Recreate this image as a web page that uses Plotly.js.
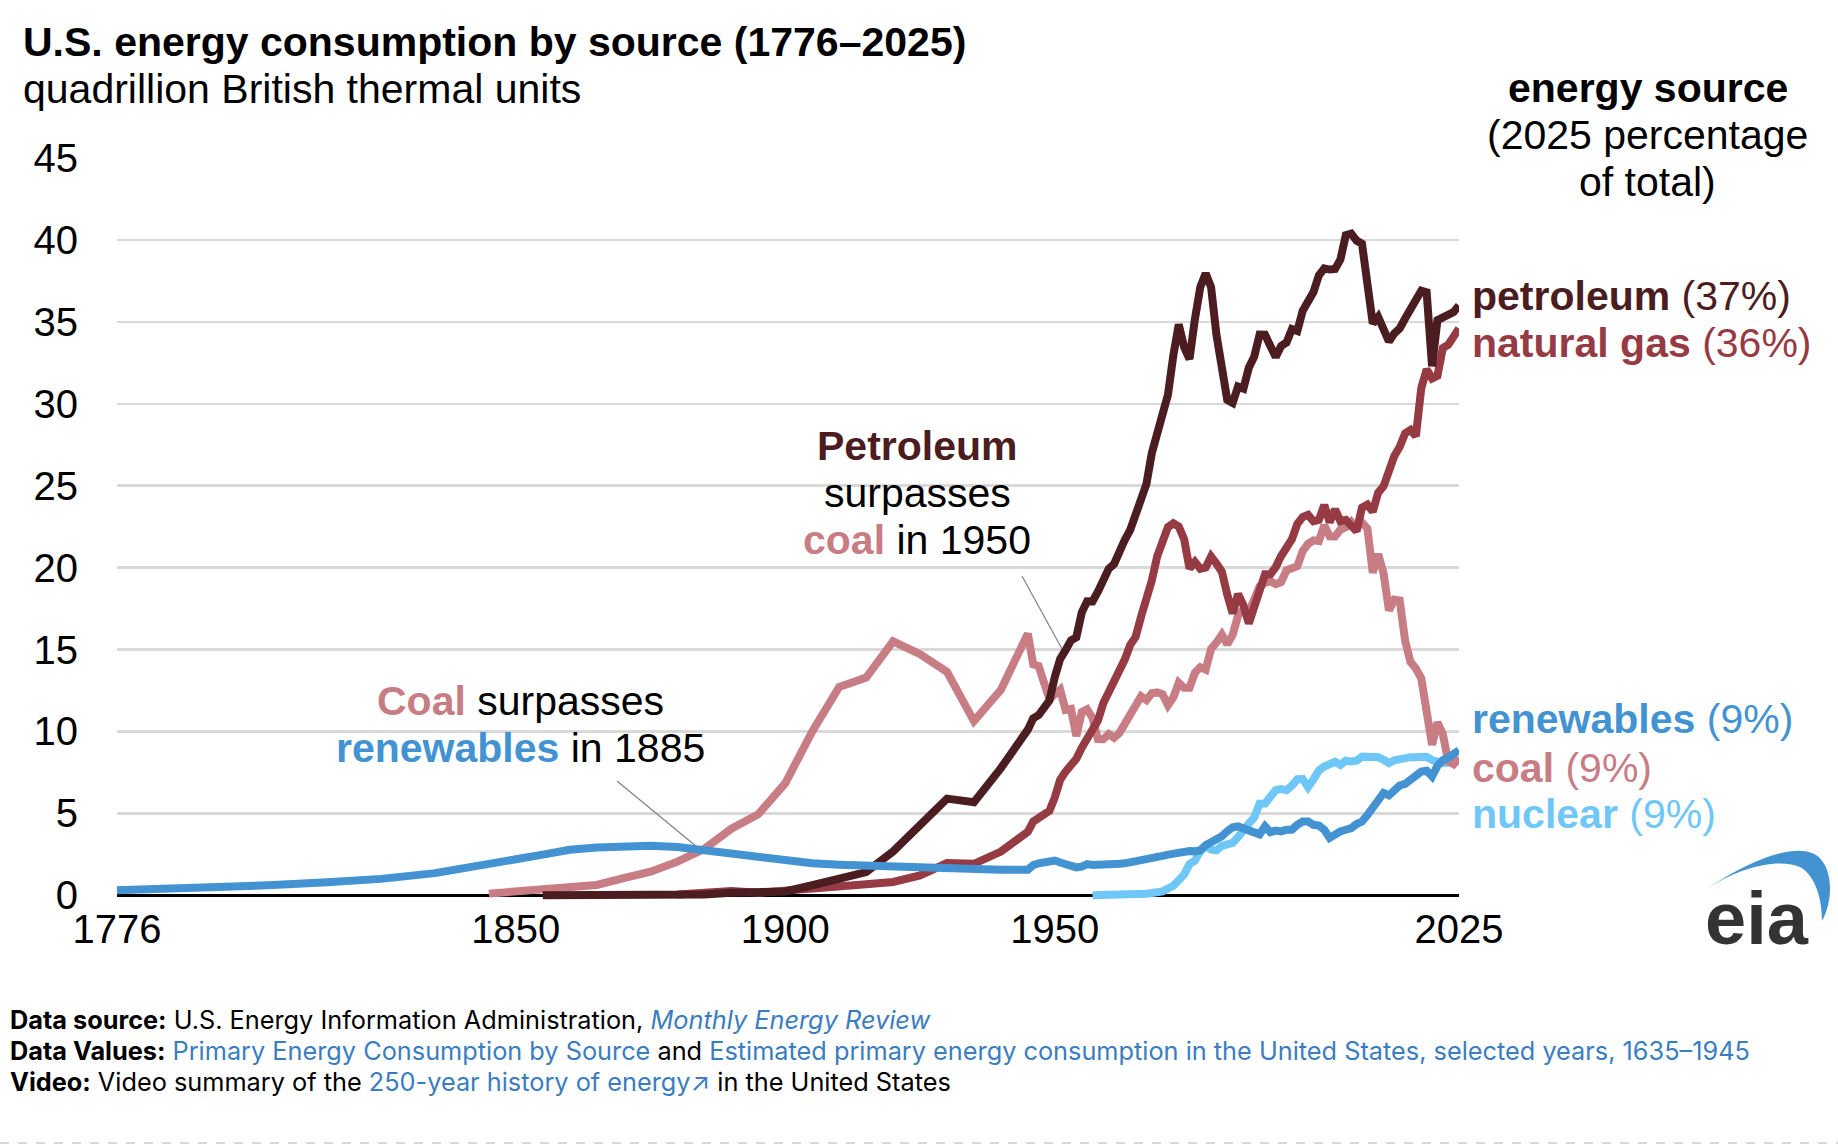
<!DOCTYPE html>
<html>
<head>
<meta charset="utf-8">
<script src="https://cdn.plot.ly/plotly-3.0.1.min.js"></script>
<style>html,body{margin:0;padding:0;background:#fff;}#chart{width:1838px;height:1146px;}</style>
</head>
<body>
<div id="chart"></div>
<script>
// ---------------- data (quadrillion Btu) ----------------
const renewYears = [1776,1785,1795,1805,1815,1825,1835,1845,1850,1855,1860,1865,1870,1875,1880,1885,1890,1895,1900,1905,1910,1915,1920,1925,1930,1935,1940,1945,1946,1947,
  1949,1950,1951,1952,1953,1954,1955,1956,1957,1958,1959,1960,1961,1962,1963,1964,1965,1966,1967,1968,1969,1970,1971,1972,1973,1974,1975,1976,1977,1978,1979,1980,1981,1982,1983,1984,1985,1986,1987,1988,1989,1990,1991,1992,1993,1994,1995,1996,1997,1998,1999,2000,2001,2002,2003,2004,2005,2006,2007,2008,2009,2010,2011,2012,2013,2014,2015,2016,2017,2018,2019,2020,2021,2022,2023,2024,2025];
const renewValues = [0.30,0.38,0.47,0.62,0.80,1.00,1.35,1.85,2.20,2.48,2.78,2.92,3.00,3.02,2.95,2.75,2.55,2.33,2.08,1.95,1.87,1.80,1.72,1.66,1.60,1.56,1.56,1.56,1.85,1.95,
  2.10,2.12,2.00,1.90,1.80,1.70,1.75,1.90,1.85,1.85,1.80,1.85,1.88,1.92,1.95,2.00,2.05,2.10,2.20,2.25,2.35,2.40,2.48,2.55,2.55,2.70,2.70,2.68,2.75,3.05,3.20,3.40,3.60,3.90,4.15,4.20,4.05,4.00,3.80,3.72,4.20,3.85,3.95,3.90,4.00,4.00,4.30,4.50,4.50,4.30,4.25,4.00,3.50,3.75,3.90,4.00,4.10,4.35,4.50,4.90,5.30,5.85,6.25,6.10,6.45,6.70,6.80,7.10,7.35,7.55,7.60,7.25,7.90,8.25,8.40,8.70,8.85];

const coalYears = [1845,1850,1855,1860,1865,1870,1875,1880,1885,1890,1895,1900,1905,1910,1915,1920,1925,1930,1935,1940,1945,1946,1947,
  1949,1950,1951,1952,1953,1954,1955,1956,1957,1958,1959,1960,1961,1962,1963,1964,1965,1966,1967,1968,1969,1970,1971,1972,1973,1974,1975,1976,1977,1978,1979,1980,1981,1982,1983,1984,1985,1986,1987,1988,1989,1990,1991,1992,1993,1994,1995,1996,1997,1998,1999,2000,2001,2002,2003,2004,2005,2006,2007,2008,2009,2010,2011,2012,2013,2014,2015,2016,2017,2018,2019,2020,2021,2022,2023,2024,2025];
const coalValues = [0.10,0.22,0.42,0.52,0.63,1.05,1.44,2.05,2.84,4.06,4.95,6.84,10.00,12.71,13.29,15.50,14.71,13.64,10.63,12.54,15.97,14.10,14.00,
  11.98,12.35,12.55,11.31,11.37,9.72,11.17,11.35,10.82,9.53,9.52,9.84,9.62,9.91,10.41,10.96,11.58,12.14,11.91,12.33,12.38,12.27,11.60,12.08,12.97,12.66,12.66,13.58,13.92,13.77,15.04,15.42,15.91,15.32,15.89,17.07,17.48,17.26,18.01,18.85,19.07,19.17,18.99,19.12,19.84,19.91,20.09,21.00,21.45,21.66,21.62,22.58,21.91,21.90,22.32,22.47,22.80,22.45,22.75,22.39,19.69,20.83,19.66,17.38,18.04,17.99,15.55,14.23,13.84,13.24,11.31,9.18,10.55,9.85,8.17,8.00,8.40];

const petroYears = [1855,1860,1865,1870,1875,1880,1885,1890,1895,1900,1905,1910,1915,1920,1925,1930,1935,1940,1945,1946,1947,
  1949,1950,1951,1952,1953,1954,1955,1956,1957,1958,1959,1960,1961,1962,1963,1964,1965,1966,1967,1968,1969,1970,1971,1972,1973,1974,1975,1976,1977,1978,1979,1980,1981,1982,1983,1984,1985,1986,1987,1988,1989,1990,1991,1992,1993,1994,1995,1996,1997,1998,1999,2000,2001,2002,2003,2004,2005,2006,2007,2008,2009,2010,2011,2012,2013,2014,2015,2016,2017,2018,2019,2020,2021,2022,2023,2024,2025];
const petroValues = [0.00,0.003,0.006,0.011,0.011,0.096,0.04,0.156,0.168,0.229,0.61,1.007,1.418,2.676,4.28,5.897,5.675,7.76,10.11,10.80,11.00,
  11.88,13.32,14.43,14.96,15.56,15.74,17.25,17.94,17.93,18.53,19.32,19.92,20.22,21.05,21.70,22.30,23.25,24.10,25.10,26.98,28.34,29.52,30.56,32.95,34.84,33.45,32.73,35.17,37.12,37.96,37.12,34.20,31.93,30.23,30.05,31.05,30.92,32.20,32.87,34.22,34.21,33.55,32.85,33.53,33.74,34.56,34.44,35.68,36.16,36.82,37.84,38.26,38.19,38.22,38.81,40.29,40.39,39.96,39.77,37.28,34.90,35.30,34.60,33.80,34.30,34.60,35.20,35.70,36.20,36.90,36.80,32.29,35.10,35.30,35.50,35.60,36.00];

const gasYears = [1880,1885,1890,1895,1900,1905,1910,1915,1920,1925,1930,1935,1940,1945,1946,1947,
  1949,1950,1951,1952,1953,1954,1955,1956,1957,1958,1959,1960,1961,1962,1963,1964,1965,1966,1967,1968,1969,1970,1971,1972,1973,1974,1975,1976,1977,1978,1979,1980,1981,1982,1983,1984,1985,1986,1987,1988,1989,1990,1991,1992,1993,1994,1995,1996,1997,1998,1999,2000,2001,2002,2003,2004,2005,2006,2007,2008,2009,2010,2011,2012,2013,2014,2015,2016,2017,2018,2019,2020,2021,2022,2023,2024,2025];
const gasValues = [0.05,0.143,0.257,0.147,0.252,0.372,0.54,0.673,0.813,1.212,1.969,1.919,2.665,3.871,4.50,4.70,
  5.15,5.97,7.05,7.55,7.91,8.33,9.00,9.61,10.19,10.66,11.72,12.39,12.93,13.73,14.40,15.29,15.77,16.99,17.94,19.21,20.68,21.79,22.47,22.70,22.51,21.73,19.95,20.35,19.93,20.00,20.67,20.24,19.75,18.36,17.20,18.39,17.70,16.59,17.64,18.45,19.60,19.60,20.03,20.71,21.23,21.73,22.67,23.09,23.22,22.83,22.91,23.82,22.77,23.56,22.83,22.91,22.56,22.22,23.66,23.84,23.42,24.57,24.96,26.09,26.81,27.38,28.19,28.40,28.03,30.96,32.10,31.54,31.71,33.40,33.60,34.10,34.60];

const nucYears = [1957,1958,1959,1960,1961,1962,1963,1964,1965,1966,1967,1968,1969,1970,1971,1972,1973,1974,1975,1976,1977,1978,1979,1980,1981,1982,1983,1984,1985,1986,1987,1988,1989,1990,1991,1992,1993,1994,1995,1996,1997,1998,1999,2000,2001,2002,2003,2004,2005,2006,2007,2008,2009,2010,2011,2012,2013,2014,2015,2016,2017,2018,2019,2020,2021,2022,2023,2024,2025];
const nucValues = [0.00,0.00,0.00,0.01,0.02,0.03,0.04,0.04,0.04,0.06,0.09,0.14,0.15,0.24,0.41,0.58,0.91,1.27,1.90,2.11,2.70,3.02,2.78,2.74,3.01,3.13,3.20,3.55,4.08,4.38,4.75,5.59,5.60,6.10,6.42,6.48,6.41,6.69,7.08,7.09,6.60,7.07,7.61,7.86,8.03,8.15,7.96,8.22,8.16,8.21,8.46,8.43,8.36,8.43,8.27,8.06,8.24,8.34,8.34,8.43,8.42,8.44,8.45,8.25,8.13,8.06,8.10,8.20,8.15];

const seriesNames = ['nuclear','coal','natural gas','petroleum','renewables'];
const sharePct = {petroleum:'37%', 'natural gas':'36%', renewables:'9%', coal:'9%', nuclear:'9%'};
const xTickVals = [1776,1850,1900,1950,2025];
const yTickVals = [0,5,10,15,20,25,30,35,40,45];

// ---------------- styling ----------------
const C = {petroleum:'#4b1c20', gas:'#963b44', coal:'#c87d84', renew:'#4393d2', nuc:'#6fc7f8', link:'#3a7dc0'};
const W=1838, H=1146, L=117, R=1459, T=158, B=901;
const px = x => (x-L)/(R-L);
const py = y => (B-y)/(B-T);
const ARIAL = 'Liberation Sans, Arial, sans-serif';
const FOOT = 'Inter, Lato, sans-serif';

function tr(x,y,color,name){
  return {x:x, y:y, type:'scatter', mode:'lines', name:name, hoverinfo:'skip',
          line:{color:color, width:8, shape:'linear'}};
}
const data = [
  tr(nucYears, nucValues, C.nuc, seriesNames[0]),
  tr(coalYears, coalValues, C.coal, seriesNames[1]),
  tr(gasYears, gasValues, C.gas, seriesNames[2]),
  tr(petroYears, petroValues, C.petroleum, seriesNames[3]),
  tr(renewYears, renewValues, C.renew, seriesNames[4])
];

function ann(text, x, y, opts){
  return Object.assign({text:text, x:px(x), y:py(y), xref:'paper', yref:'paper', showarrow:false,
    xanchor:'center', yanchor:'middle', font:{family:ARIAL, size:41, color:'#000'}}, opts||{});
}
const sp = (c,t,b) => (b?'<b>':'') + '<span style="color:'+c+'">'+t+'</span>' + (b?'</b>':'');
const footOpts = {xanchor:'left', font:{family:FOOT, size:25.3, color:'#000'}, borderpad:0};

const annotations = [
  ann('<b>U.S. energy consumption by source (1776–2025)</b>', 21, 42, {xanchor:'left'}),
  ann('quadrillion British thermal units', 21, 89, {xanchor:'left'}),
  ann('<b>energy source</b>', 1648, 88),
  ann('(2025 percentage', 1648, 135),
  ann('of total)', 1648, 182),
  ann(sp(C.petroleum,'petroleum',true)+sp(C.petroleum,' ('+sharePct.petroleum+')'), 1470, 296, {xanchor:'left'}),
  ann(sp(C.gas,'natural gas',true)+sp(C.gas,' ('+sharePct['natural gas']+')'), 1470, 343, {xanchor:'left'}),
  ann(sp(C.renew,'renewables',true)+sp(C.renew,' ('+sharePct.renewables+')'), 1470, 719, {xanchor:'left'}),
  ann(sp(C.coal,'coal',true)+sp(C.coal,' ('+sharePct.coal+')'), 1470, 768, {xanchor:'left'}),
  ann(sp(C.nuc,'nuclear',true)+sp(C.nuc,' ('+sharePct.nuclear+')'), 1470, 814, {xanchor:'left'}),
  ann(sp(C.petroleum,'Petroleum',true), 917, 446),
  ann('surpasses', 917, 493),
  ann(sp(C.coal,'coal',true)+' in 1950', 917, 540),
  ann(sp(C.coal,'Coal',true)+' surpasses', 520, 701),
  ann(sp(C.renew,'renewables',true)+' in 1885', 520, 748),
  ann('<b>Data source:</b> U.S. Energy Information Administration, <i>'+sp(C.link,'Monthly Energy Review')+'</i>', 9, 1019, footOpts),
  ann('<b>Data Values:</b> '+sp(C.link,'Primary Energy Consumption by Source')+' and '+sp(C.link,'Estimated primary energy consumption in the United States, selected years, 1635–1945'), 9, 1050, footOpts),
  ann('<b>Video:</b> Video summary of the '+sp(C.link,'250-year history of energy')+sp(C.link,'↗')+' in the United States', 9, 1081, footOpts),
  ann('<b>eia</b>', 1757, 918, {font:{family:ARIAL, size:74, color:'#333333'}})
];

// eia swoosh: smooth crescent, pixel control points converted to paper coords
const P = (x,y) => px(x).toFixed(5)+','+py(y).toFixed(5);
const arcPath = 'M '+P(1705,890)+
  ' C '+P(1750,860)+' '+P(1790,845)+' '+P(1812,853)+
  ' C '+P(1834,862)+' '+P(1834,900)+' '+P(1822,921)+
  ' C '+P(1822,900)+' '+P(1816,876)+' '+P(1800,867)+
  ' C '+P(1780,858)+' '+P(1740,866)+' '+P(1705,890)+' Z';

const shapes = [
  {type:'rect', xref:'paper', yref:'paper', x0:px(780), x1:px(1049), y0:py(562), y1:py(420), fillcolor:'#fff', line:{width:0}, layer:'between'},
  {type:'rect', xref:'paper', yref:'paper', x0:px(315), x1:px(720), y0:py(775), y1:py(675), fillcolor:'#fff', line:{width:0}, layer:'between'},
  {type:'line', xref:'paper', yref:'paper', x0:px(617), y0:py(781), x1:px(697), y1:py(847), line:{color:'#7f7f7f', width:1.2}},
  {type:'line', xref:'paper', yref:'paper', x0:px(1022), y0:py(576), x1:px(1062), y1:py(649), line:{color:'#7f7f7f', width:1.2}},
  {type:'path', xref:'paper', yref:'paper', path:arcPath, fillcolor:C.renew, line:{width:0}},
  {type:'line', xref:'paper', yref:'paper', x0:px(0), x1:px(1838), y0:py(1143), y1:py(1143), line:{color:'#cccccc', width:1.5, dash:'dash'}}
];

const layout = {
  width:W, height:H, margin:{l:L, r:W-R, t:T, b:H-B, pad:0},
  paper_bgcolor:'#fff', plot_bgcolor:'#fff', showlegend:false,
  xaxis:{range:[1776,2025], tickvals:xTickVals, ticktext:xTickVals.map(String), showgrid:false, zeroline:false, showline:false,
         ticks:'', ticklabelstandoff:1, tickfont:{family:ARIAL, size:40, color:'#000'}, fixedrange:true},
  yaxis:{range:[-0.35,45], tickvals:yTickVals, showgrid:true, gridcolor:'#d9d9d9', gridwidth:2.5,
         zeroline:true, zerolinecolor:'#000', zerolinewidth:3, showline:false, ticks:'',
         ticklabelstandoff:38, tickfont:{family:ARIAL, size:40, color:'#000'}, fixedrange:true},
  annotations:annotations, shapes:shapes
};
Plotly.newPlot('chart', data, layout, {displayModeBar:false, staticPlot:true});
</script>
</body>
</html>
